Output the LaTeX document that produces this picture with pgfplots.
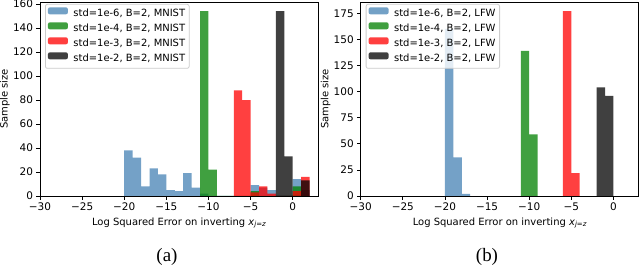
\documentclass[border=0pt]{standalone}
\usepackage{pgfplots}
\pgfplotsset{compat=1.18}
\usepackage{fontspec}
\setmainfont{DejaVu Sans}
\newfontfamily\capfont{Liberation Serif}
\definecolor{sblue}{HTML}{4682B4}
\definecolor{sgreen}{HTML}{008000}
\definecolor{sred}{HTML}{FF0000}
\definecolor{sblack}{HTML}{000000}
\definecolor{legedge}{HTML}{CCCCCC}

\pgfplotsset{
  hist/.style={
    scale only axis, width=278bp, height=194bp,
    xmin=-30, xmax=3, ymin=0,
    axis on top,
    axis line style={line width=0.8bp},
    tick align=outside, major tick length=3.5bp,
    every tick/.style={black, line width=0.8bp},
    tick pos=left,
    xtick={-30,-25,...,0},
    xticklabels={−30,−25,−20,−15,−10,−5,0},
    tick label style={font=\fontsize{10.5}{12}\selectfont},
    label style={font=\fontsize{10}{12}\selectfont},
    xlabel={Log Squared Error on inverting \textit{x}\raisebox{-0.35ex}{\fontsize{7}{8}\selectfont\textit{j}=\textit{z}}},
    xlabel style={at={(axis description cs:0.5,-0.139)}, anchor=center},
    ylabel={Sample size},
    ylabel style={at={(axis description cs:-0.126,0.5)}, anchor=center},
    legend cell align=left,
    legend image code/.code={\fill[##1] (0bp,-0.5bp) rectangle (20bp,6.5bp);},
    legend style={at={(axis description cs:0.018,0.99)}, anchor=north west,
      draw=legedge, line width=0.8bp, rounded corners=2bp, fill=white,
      fill opacity=0.8, text opacity=1,
      font=\fontsize{10}{12}\selectfont,
      inner xsep=2.5bp, inner ysep=2bp, row sep=0bp, column sep=4bp,
      nodes={inner xsep=1.5bp, inner ysep=2.25bp, text height=8bp, text depth=2.5bp}},
  },
  bars/.style={draw=none, fill=#1, fill opacity=0.75, const plot},
}

\begin{document}
\begin{tikzpicture}
\useasboundingbox (0bp,0bp) rectangle (640bp,267bp);

% ---------------- (a) MNIST ----------------
\begin{axis}[hist, at={(40bp,71bp)}, anchor=south west, ymax=161.7,
  ytick={0,20,...,160}, yticklabels={0,20,40,60,80,100,120,140,160}]
\addplot[bars=sblue] coordinates {
  (-20,38) (-19,32) (-18,8) (-17,23) (-16,18) (-15,5) (-14,4) (-13,19) (-12,7) (-11,2)
  (-10,0) (-9,0) (-8,0) (-7,0) (-6,0) (-5,9) (-4,7) (-3,5) (-2,0) (-1,0) (0,14) (1,5) (2,0)} \closedcycle;
\addlegendentry{std=1e-6, B=2, MNIST}
\addplot[bars=sgreen] coordinates {
  (-11,154) (-10,22) (-9,0) (-8,0) (-7,0) (-6,0) (-5,4) (-4,0) (-3,0) (-2,0) (-1,0) (0,8) (1,0) (2,0)} \closedcycle;
\addlegendentry{std=1e-4, B=2, MNIST}
\addplot[bars=sred] coordinates {
  (-7,88) (-6,80) (-5,3) (-4,8) (-3,2) (-2,0) (-1,0) (0,4) (1,16) (2,0)} \closedcycle;
\addlegendentry{std=1e-3, B=2, MNIST}
\addplot[bars=sblack] coordinates {
  (-2,154) (-1,33) (0,0) (1,13) (2,0)} \closedcycle;
\addlegendentry{std=1e-2, B=2, MNIST}
\end{axis}
\node[font=\capfont\fontsize{19}{22}\selectfont] at (167bp,10bp) {(a)};

% ---------------- (b) LFW ----------------
\begin{axis}[hist, at={(360.7bp,71bp)}, anchor=south west, ymax=185.85,
  ytick={0,25,...,175}, yticklabels={0,25,50,75,100,125,150,175}]
\addplot[bars=sblue] coordinates {
  (-20,160) (-19,37) (-18,2) (-17,0)} \closedcycle;
\addlegendentry{std=1e-6, B=2, LFW}
\addplot[bars=sgreen] coordinates {
  (-11,139) (-10,59) (-9,0)} \closedcycle;
\addlegendentry{std=1e-4, B=2, LFW}
\addplot[bars=sred] coordinates {
  (-6,177) (-5,22) (-4,0)} \closedcycle;
\addlegendentry{std=1e-3, B=2, LFW}
\addplot[bars=sblack] coordinates {
  (-2,104) (-1,96) (0,0)} \closedcycle;
\addlegendentry{std=1e-2, B=2, LFW}
\end{axis}
\node[font=\capfont\fontsize{19}{22}\selectfont] at (487bp,10bp) {(b)};
\end{tikzpicture}
\end{document}
